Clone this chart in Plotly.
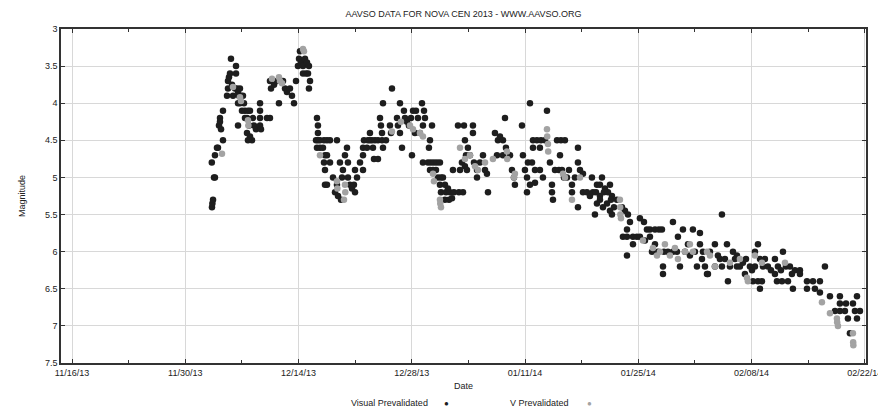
import numpy as np
import pandas as pd
import plotly.graph_objects as go

# Julian dates are stored as JD - 2456000
JD_OFFSET = 2456000.0
UNIX_EPOCH_JD = 2440587.5

# ---------------- Visual Prevalidated observations ----------------
vis_jd_dec_a = [
    629.80, 629.85, 629.93, 630.05, 630.17, 629.78, 630.17, 630.42, 630.54, 631.16,
    630.67, 630.79, 630.79, 630.92, 631.16, 631.66, 631.78, 631.78, 631.90, 632.03,
    632.15, 632.28, 632.40, 632.77, 632.77, 632.65, 632.89, 633.02, 633.14, 633.26,
    633.39, 633.63, 633.76, 633.02, 633.26, 633.51, 633.88, 634.25, 634.50, 633.02,
    633.88, 634.13, 634.13, 634.38, 634.50, 634.75, 634.25, 634.87, 634.99, 635.24,
    635.74, 635.74, 635.74, 635.74, 635.86, 636.60, 636.97, 636.97, 637.10, 637.47,
    637.84, 638.21, 638.58, 638.83, 638.08, 639.07, 639.44, 639.69, 639.94, 640.19,
    640.43, 640.56, 640.68, 640.80, 641.05, 641.30, 641.55, 641.42, 641.67, 641.05,
    641.79, 641.92, 641.79]
vis_mag_dec_a = [
    5.4, 5.35, 5.3, 5.0, 5.0, 4.8, 4.7, 4.6, 4.6, 4.5,
    4.3, 4.2, 4.25, 4.35, 4.1, 3.9, 3.8, 3.7, 3.65, 3.6,
    3.4, 3.75, 3.9, 3.5, 3.6, 3.8, 3.8, 3.85, 3.9, 3.8,
    3.9, 3.9, 4.0, 4.0, 4.0, 4.1, 4.1, 4.1, 4.1, 4.3,
    4.2, 4.2, 4.4, 4.3, 4.45, 4.5, 4.5, 4.2, 4.3, 4.35,
    4.0, 4.1, 4.2, 4.3, 4.35, 4.2, 4.2, 3.7, 3.8, 3.75,
    3.7, 3.7, 3.7, 3.8, 4.0, 3.85, 3.8, 3.9, 4.0, 3.7,
    3.5, 3.4, 3.3, 3.45, 3.5, 3.4, 3.45, 3.6, 3.6, 3.6,
    3.5, 3.7, 3.8]

vis_jd_dec_b = [
    642.78, 642.90, 642.90, 642.66, 642.90, 643.15, 643.65, 644.02, 644.39, 645.25,
    642.78, 643.15, 643.52, 643.77, 644.02, 643.65, 644.39, 643.77, 643.77, 644.02,
    644.76, 645.25, 645.01, 645.38, 645.75, 645.87, 645.99, 645.62, 646.24, 646.49,
    646.61, 646.61, 646.86, 647.11, 647.35, 647.48, 647.73, 647.48, 648.10, 648.47,
    648.47, 648.47, 648.59, 649.08, 649.33, 648.96]
vis_mag_dec_b = [
    4.2, 4.3, 4.4, 4.5, 4.5, 4.5, 4.5, 4.5, 4.5, 4.5,
    4.6, 4.6, 4.6, 4.7, 4.7, 4.8, 4.8, 4.9, 5.1, 5.1,
    5.0, 5.1, 5.2, 5.25, 5.3, 5.0, 4.9, 4.8, 4.7, 4.6,
    4.8, 5.0, 5.1, 5.15, 5.1, 5.2, 5.0, 4.9, 4.8, 4.9,
    4.7, 4.6, 4.5, 4.5, 4.4, 4.6]

vis_jd_jan_a = [
    649.33, 649.58, 649.95, 650.32, 650.82, 651.31, 649.70, 650.94, 649.83, 650.32,
    650.57, 650.69, 650.82, 650.94, 652.05, 651.80, 651.93, 652.67, 652.79, 653.04,
    653.04, 653.29, 653.53, 653.66, 653.91, 654.15, 654.40, 654.65, 654.89, 654.52,
    655.02, 655.26, 655.51, 655.76, 656.01, 655.88, 656.13, 657.00, 656.75, 656.62,
    655.88, 656.50, 656.87, 657.24, 657.61, 657.98, 656.75, 657.12, 657.49, 657.74,
    658.11, 658.35, 657.98, 658.60, 658.97, 658.11, 658.73, 659.22, 659.71, 660.33,
    660.83, 658.60, 659.10, 659.47, 659.59, 660.46, 660.70, 661.07, 661.32, 660.21,
    660.95, 662.06, 662.06, 661.07, 661.44, 661.69, 661.20, 662.19, 662.56, 662.56,
    662.93, 663.30, 663.55, 663.79, 663.92, 664.78, 665.15, 665.40, 665.77, 666.02,
    666.14, 665.03, 665.77, 666.64, 666.88, 667.13, 667.25, 668.12, 668.24, 668.49,
    668.86, 669.36, 668.74, 669.11, 668.74, 669.11]
vis_mag_jan_a = [
    4.5, 4.5, 4.5, 4.5, 4.5, 4.5, 4.6, 4.6, 4.75, 4.75,
    4.2, 4.3, 4.4, 4.0, 3.8, 4.3, 4.4, 4.2, 4.3, 4.0,
    4.4, 4.6, 4.1, 4.2, 4.25, 4.3, 4.2, 4.1, 4.4, 4.7,
    4.1, 4.2, 4.4, 4.0, 4.1, 4.3, 4.2, 4.3, 4.5, 4.6,
    4.8, 4.8, 4.8, 4.8, 4.8, 4.8, 4.9, 4.9, 4.9, 5.0,
    5.0, 5.0, 5.1, 5.1, 5.15, 5.2, 5.2, 5.2, 5.2, 5.2,
    5.2, 5.3, 5.3, 5.28, 4.9, 4.9, 4.8, 4.85, 4.9, 4.3,
    4.3, 4.3, 4.4, 4.5, 4.6, 4.7, 4.7, 4.8, 4.9, 5.0,
    4.8, 4.7, 4.9, 4.95, 5.2, 4.4, 4.5, 4.45, 4.5, 4.2,
    4.6, 4.7, 4.7, 4.7, 4.9, 5.0, 5.1, 4.3, 4.7, 4.9,
    4.8, 4.8, 5.0, 5.1, 5.2, 4.0]

vis_jd_jan_b = [
    671.21, 669.48, 669.97, 670.47, 670.96, 672.45, 672.94, 673.43, 669.48, 670.34,
    669.73, 670.34, 670.71, 669.73, 671.58, 671.83, 671.83, 671.95, 672.82, 672.20,
    672.69, 673.06, 673.31, 673.68, 675.04, 675.04, 673.93, 674.67, 675.29, 675.66,
    674.30, 674.30, 675.04, 675.66, 676.15, 676.52, 676.89, 677.27, 677.76, 678.25,
    678.75, 679.24, 676.77, 678.01, 677.39, 677.76, 678.38, 679.00, 677.14, 677.39,
    677.76, 678.13, 678.63, 679.12, 679.49, 679.86, 679.00, 679.24, 680.48, 680.85,
    681.22, 681.47, 681.10, 680.60, 681.10, 681.84, 682.33, 681.84, 681.10, 682.70,
    683.20, 683.57, 683.94, 684.56, 685.05, 685.42, 682.70, 683.32, 683.94, 684.56,
    684.19, 684.93, 685.67, 686.16, 686.78, 687.28, 685.55, 685.55, 686.78, 687.65,
    688.02, 689.25, 688.27, 688.88, 689.50, 689.75, 690.99, 687.40, 688.64]
vis_mag_jan_b = [
    4.1, 4.5, 4.5, 4.5, 4.5, 4.5, 4.5, 4.5, 4.6, 4.6,
    4.9, 4.9, 5.0, 5.07, 4.8, 5.1, 5.2, 5.3, 4.7, 4.9,
    4.9, 4.9, 5.0, 5.0, 4.6, 4.8, 4.9, 5.0, 4.9, 4.95,
    5.1, 5.2, 5.4, 5.2, 5.2, 5.25, 5.2, 5.2, 5.25, 5.2,
    5.2, 5.25, 5.0, 5.0, 5.1, 5.1, 5.15, 5.1, 5.5, 5.35,
    5.3, 5.4, 5.35, 5.3, 5.4, 5.3, 5.45, 5.5, 5.4, 5.45,
    5.5, 5.6, 5.7, 5.8, 5.8, 5.8, 5.8, 5.9, 6.05, 5.55,
    5.6, 5.7, 5.7, 5.7, 5.7, 5.7, 5.8, 5.85, 5.8, 5.9,
    6.0, 6.0, 6.0, 6.0, 6.0, 6.0, 6.2, 6.3, 5.6, 6.2,
    5.7, 5.7, 6.0, 6.05, 6.0, 6.2, 6.3, 5.8, 5.9]

vis_jd_feb = [
    692.84, 690.12, 690.12, 690.49, 690.37, 690.74, 691.11, 691.36, 691.97, 692.34,
    692.59, 691.97, 692.84, 693.46, 693.21, 693.83, 694.45, 694.69, 695.06, 693.58,
    694.20, 694.69, 695.43, 695.81, 696.30, 696.55, 696.92, 697.29, 696.92, 697.54,
    697.91, 696.67, 697.29, 697.78, 697.54, 698.15, 698.52, 698.90, 699.39, 699.76,
    700.13, 700.38, 700.75, 701.24, 701.86, 702.48, 699.64, 700.26, 701.00, 701.61,
    703.35, 704.09, 704.95, 705.57, 703.35, 704.33, 704.95, 706.19, 707.42, 709.53,
    706.81, 707.42, 708.04, 709.28, 709.90, 707.42, 708.17, 709.03, 708.41, 709.53,
    708.66, 695.68, 699.39, 701.49, 702.48]
vis_mag_feb = [
    5.5, 5.75, 5.9, 6.0, 6.1, 6.2, 6.3, 6.0, 5.9, 6.05,
    6.1, 6.2, 6.2, 5.9, 6.1, 6.2, 6.1, 6.2, 6.2, 6.4,
    6.0, 6.05, 6.15, 6.1, 6.2, 6.25, 6.0, 5.9, 6.2, 6.1,
    6.2, 6.4, 6.4, 6.4, 6.5, 6.1, 6.2, 6.25, 6.1, 6.2,
    6.25, 6.0, 6.2, 6.2, 6.25, 6.25, 6.4, 6.4, 6.4, 6.5,
    6.4, 6.4, 6.4, 6.2, 6.5, 6.5, 6.55, 6.6, 6.6, 6.6,
    6.8, 6.8, 6.8, 6.8, 6.8, 6.7, 6.7, 6.7, 6.9, 6.9,
    7.1, 6.3, 6.3, 6.3, 6.3]

# ---------------- V Prevalidated observations ----------------
v_jd = [
    631.04, 632.40, 633.26, 633.39, 634.25, 634.30, 637.22, 638.08, 638.21, 638.46,
    641.05, 641.17, 643.15, 645.25, 645.30, 646.24, 646.28, 646.12, 652.05, 653.16,
    654.28, 654.65, 655.51, 655.88, 657.12, 657.24, 657.98, 658.02, 658.11, 660.46,
    661.07, 661.69, 662.31, 662.68, 663.55, 664.53, 666.27, 666.30, 667.13, 667.25,
    671.21, 671.24, 671.33, 671.36, 673.19, 673.43, 675.29, 674.30, 680.23, 680.26,
    680.28, 680.36, 683.07, 684.31, 684.81, 685.18, 685.79, 686.41, 687.03, 687.40,
    688.27, 688.88, 689.25, 690.99, 691.36, 691.97, 693.83, 695.06, 695.93, 696.05,
    696.92, 697.78, 700.63, 705.20, 706.19, 707.05, 707.08, 707.18, 709.03, 709.06,
    709.08]
v_mag = [
    4.68, 3.78, 3.92, 3.97, 4.23, 4.3, 3.67, 3.65, 3.7, 3.73,
    3.27, 3.3, 4.7, 5.05, 5.15, 5.1, 5.2, 5.3, 4.38, 4.25,
    4.3, 4.35, 4.4, 4.45, 4.95, 5.05, 5.3, 5.35, 5.4, 4.6,
    4.75, 4.7, 4.85, 4.9, 4.8, 4.75, 4.65, 4.75, 5.0, 4.95,
    4.35, 4.45, 4.55, 4.65, 4.95, 5.0, 5.0, 5.3, 5.3, 5.4,
    5.5, 5.55, 5.85, 5.95, 6.05, 6.0, 5.9, 6.05, 5.95, 6.1,
    6.0, 5.9, 6.0, 6.0, 6.05, 6.2, 6.15, 6.1, 6.35, 6.4,
    6.05, 6.15, 6.15, 6.68, 6.83, 6.9, 6.95, 7.0, 7.1, 7.22,
    7.26]

title_text = "AAVSO DATA FOR NOVA CEN 2013 - WWW.AAVSO.ORG"
x_title = "Date"
y_title = "Magnitude"
series_names = ["Visual Prevalidated", "V Prevalidated"]
series_colors = ["#1e1e1e", "#a3a3a3"]
x_start, x_end = "2013-11-14 15:20", "2014-02-22 03:30"
y_min, y_max = 3.0, 7.5


def jd_to_dt(vals):
    return pd.to_datetime(np.asarray(vals) + JD_OFFSET - UNIX_EPOCH_JD, unit="D")


vis_jd = vis_jd_dec_a + vis_jd_dec_b + vis_jd_jan_a + vis_jd_jan_b + vis_jd_feb
vis_mag = vis_mag_dec_a + vis_mag_dec_b + vis_mag_jan_a + vis_mag_jan_b + vis_mag_feb

fig = go.Figure()
fig.add_trace(go.Scatter(
    x=jd_to_dt(vis_jd), y=vis_mag, mode="markers", name=series_names[0],
    marker=dict(size=6.5, color=series_colors[0], line=dict(width=0)),
))
fig.add_trace(go.Scatter(
    x=jd_to_dt(v_jd), y=v_mag, mode="markers", name=series_names[1],
    marker=dict(size=6.5, color=series_colors[1], line=dict(width=0)),
))

DAY_MS = 86400000
axis_common = dict(
    showline=True, linecolor="#333", linewidth=1.5, mirror="ticks",
    ticks="inside", ticklen=4, tickwidth=1, tickcolor="#333",
    showgrid=True, gridcolor="#d8d8d8", gridwidth=1, zeroline=False,
    tickfont=dict(size=9, color="#222"), automargin=False,
)
fig.update_xaxes(
    type="date", range=[x_start, x_end], tick0="2013-11-16", dtick=14 * DAY_MS,
    tickformat="%m/%d/%y", ticklabeloverflow="allow",
    minor=dict(tick0="2013-11-16", dtick=7 * DAY_MS, ticks="inside", ticklen=3,
               tickcolor="#333", showgrid=False),
    title=dict(text=x_title, standoff=6, font=dict(size=9, color="#222")),
    **axis_common,
)
fig.update_yaxes(
    range=[y_max, y_min], tick0=3, dtick=0.5,
    title=dict(text=y_title, standoff=18, font=dict(size=9, color="#222")),
    **axis_common,
)

leg_y = -0.12
fig.update_layout(
    width=878, height=408,
    margin=dict(l=61, r=12, t=29, b=45),
    plot_bgcolor="white", paper_bgcolor="white",
    showlegend=False,
    font=dict(family="Liberation Sans, Arial, sans-serif", size=9, color="#222"),
    title=dict(text=title_text, x=0.5, xref="paper", xanchor="center",
               y=1 - 14 / 408, yref="container", yanchor="middle",
               font=dict(size=9, color="#222")),
    annotations=[
        dict(text=series_names[0], xref="paper", yref="paper", x=0.458, y=leg_y,
             xanchor="right", yanchor="middle", showarrow=False, font=dict(size=9)),
        dict(text="●", xref="paper", yref="paper", x=0.479, y=leg_y,
             xanchor="center", yanchor="middle", showarrow=False,
             font=dict(size=8, color=series_colors[0])),
        dict(text=series_names[1], xref="paper", yref="paper", x=0.633, y=leg_y,
             xanchor="right", yanchor="middle", showarrow=False, font=dict(size=9)),
        dict(text="●", xref="paper", yref="paper", x=0.657, y=leg_y,
             xanchor="center", yanchor="middle", showarrow=False,
             font=dict(size=8, color=series_colors[1])),
    ],
)

fig.write_html("out.html")
